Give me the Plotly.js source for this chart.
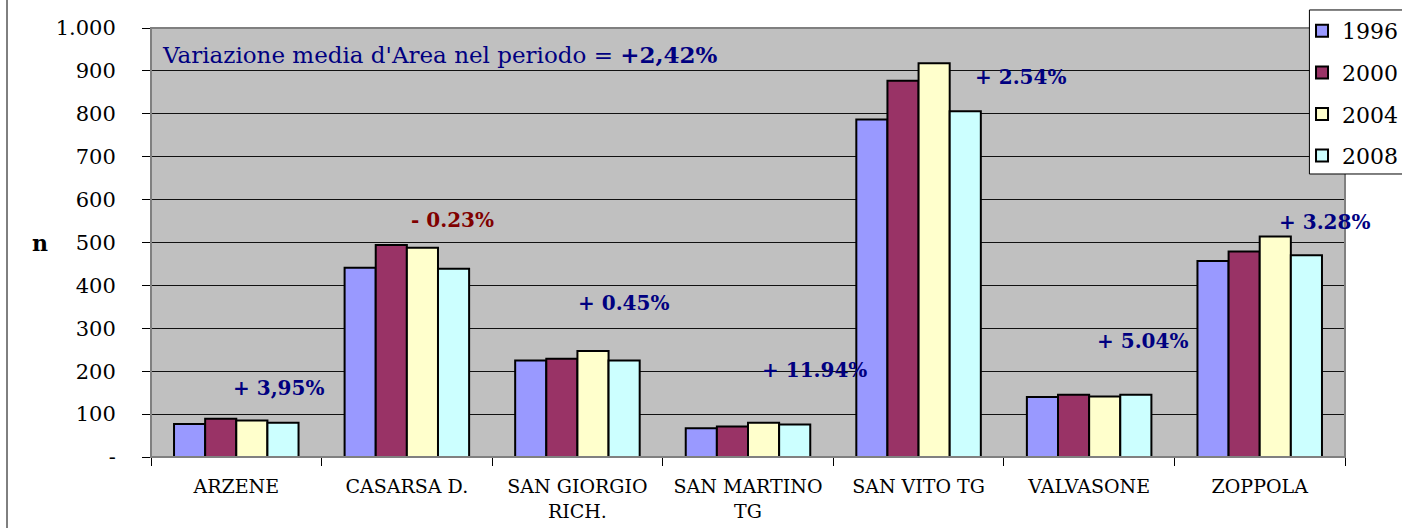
<!DOCTYPE html>
<html>
<head>
<meta charset="utf-8">
<script src="https://cdn.plot.ly/plotly-3.0.1.min.js"></script>
<style>html,body{margin:0;padding:0;background:#fff;}#chart{width:1402px;height:528px;}</style>
</head>
<body>
<div id="chart"></div>
<script>
const categories = ["ARZENE", "CASARSA D.", "SAN GIORGIO<br>RICH.", "SAN MARTINO<br>TG", "SAN VITO TG", "VALVASONE", "ZOPPOLA"];
const years = ["1996", "2000", "2004", "2008"];
const values1996 = [77, 441, 225, 67, 787, 140, 457];
const values2000 = [89, 494, 229, 71, 877, 145, 479];
const values2004 = [85, 488, 247, 80, 918, 141, 514];
const values2008 = [80, 439, 225, 76, 806, 145, 470];
const seriesColors = ["#9999FF", "#993366", "#FFFFCC", "#CCFFFF"];
const yTickVals = [0, 100, 200, 300, 400, 500, 600, 700, 800, 900, 1000];
const yTickText = ["-", "100", "200", "300", "400", "500", "600", "700", "800", "900", "1.000"];
const changeLabels = ["+ 3,95%", "- 0.23%", "+ 0.45%", "+ 11.94%", "+ 2.54%", "+ 5.04%", "+ 3.28%"];
const changeX = [0.25, 1.27, 2.27, 3.39, 4.6, 5.31, 6.38];
const changeY = [160, 552, 360, 202, 886, 270, 547];
const changeColors = ["#000080", "#800000", "#000080", "#000080", "#000080", "#000080", "#000080"];
const summaryText = "Variazione media d'Area nel periodo = <b>+2,42%</b>";

const allValues = [values1996, values2000, values2004, values2008];
const FONT = "DejaVu Serif, Liberation Serif, serif";

const traces = years.map((yr, i) => ({
  type: "bar",
  name: yr,
  legendgroup: "g" + yr,
  x: categories,
  y: allValues[i],
  marker: {color: seriesColors[i], line: {color: "#000", width: 2}},
  hoverinfo: "skip"
}));

const annotations = changeLabels.map((t, i) => ({
  x: changeX[i], y: changeY[i], xref: "x", yref: "y",
  text: "<b>" + t + "</b>", showarrow: false,
  font: {family: FONT, size: 20, color: changeColors[i]},
  xanchor: "center", yanchor: "middle"
}));
annotations.push({
  x: 0.0075, y: 0.939, xref: "paper", yref: "paper",
  text: summaryText, showarrow: false, xanchor: "left", yanchor: "middle",
  font: {family: FONT, size: 23, color: "#000080"}
});
annotations.push({
  x: -0.093, y: 0.5, xref: "paper", yref: "paper",
  text: "<b>n</b>", showarrow: false, xanchor: "center", yanchor: "middle",
  font: {family: FONT, size: 22, color: "#000"}
});

const layout = {
  width: 1402, height: 528,
  margin: {l: 151, r: 57, t: 28, b: 71, autoexpand: false},
  paper_bgcolor: "#fff",
  plot_bgcolor: "#C0C0C0",
  barmode: "group",
  bargap: 0.27,
  bargroupgap: 0,
  font: {family: FONT, color: "#000"},
  showlegend: true,
  legend: {
    x: 0.964, y: 1.042, xanchor: "left", yanchor: "top",
    bgcolor: "rgba(0,0,0,0)", borderwidth: 0,
    font: {family: FONT, size: 22, color: "#000"},
    tracegroupgap: 10, itemwidth: 30
  },
  xaxis: {
    type: "category",
    range: [-0.5, categories.length - 0.5],
    autorange: false,
    ticks: "outside", tickson: "boundaries", ticklen: 8, tickcolor: "#000",
    ticklabelstandoff: 12,
    showline: true, linecolor: "#000", linewidth: 1,
    tickfont: {family: FONT, size: 19, color: "#000"},
    showgrid: false, fixedrange: true
  },
  yaxis: {
    range: [0, 1000],
    autorange: false,
    tickvals: yTickVals, ticktext: yTickText,
    ticks: "outside", ticklen: 8, tickcolor: "#000",
    ticklabelstandoff: 22,
    tickfont: {family: FONT, size: 21, color: "#000"},
    showgrid: true, gridcolor: "#111", gridwidth: 1,
    showline: false, zeroline: false, fixedrange: true
  },
  shapes: [
    {type: "rect", xref: "paper", yref: "paper", x0: 0, x1: 1, y0: 0, y1: 1,
     line: {color: "#808080", width: 2}, layer: "above"},
    {type: "line", xref: "paper", yref: "paper", x0: -0.1206, x1: -0.1206, y0: -0.2, y1: 1.1,
     line: {color: "#000", width: 1}},
    {type: "rect", xref: "paper", yref: "paper", x0: 0.9702, x1: 1.06, y0: 0.6597, y1: 1.042,
     fillcolor: "#fff", line: {color: "#000", width: 1}, layer: "above"}
  ],
  annotations: annotations
};

Plotly.newPlot("chart", traces, layout, {displayModeBar: false, staticPlot: true});
</script>
</body>
</html>
